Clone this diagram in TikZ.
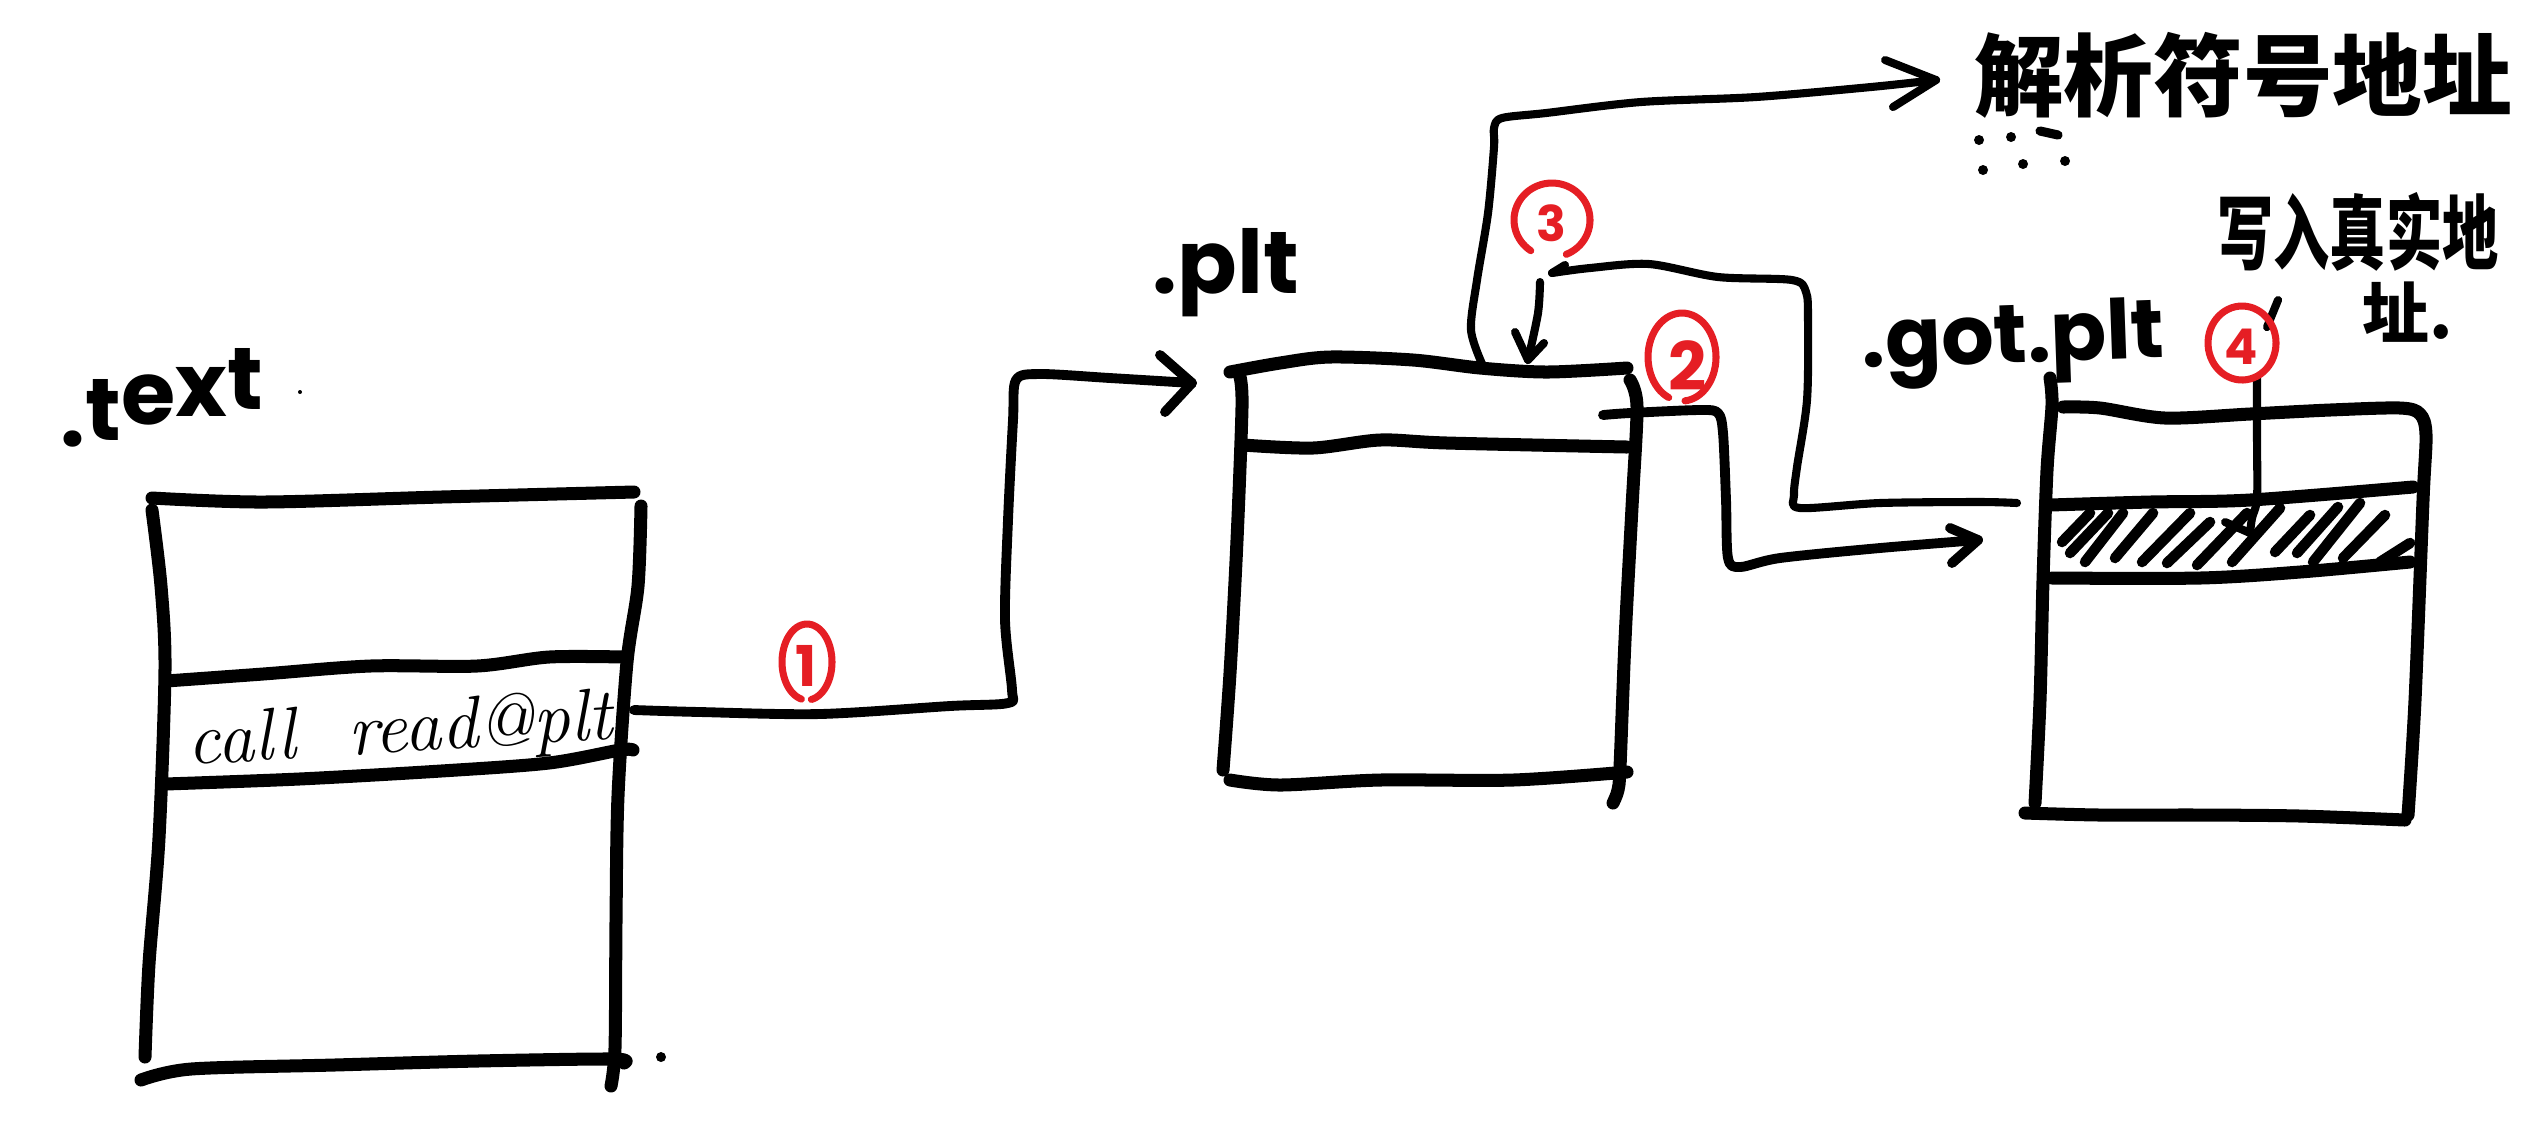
\documentclass[tikz,border=0pt]{standalone}
\usepackage{fontspec}
\usepackage{graphicx}
\newfontfamily\cjk{Noto Sans CJK SC}
\newfontfamily\hand{Poppins}
\definecolor{redpen}{RGB}{229,30,36}
\tikzset{
  boxline/.style={line width=3.7pt},
  conn/.style={line width=2.8pt},
  thinconn/.style={line width=2.3pt},
  hatchline/.style={line width=3pt},
  redline/.style={draw=redpen, line width=2pt},
  lbl/.style={inner sep=0pt, font=\hand\bfseries\fontsize{25}{30}\selectfont},
  num/.style={inner sep=0pt, text=redpen, font=\hand\bfseries},
  cjklbl/.style={inner sep=0pt, font=\cjk\bfseries},
}
\newcommand\rloop[6]{\draw[redline] plot[smooth, samples=60, domain=#5:#6, variable=\t] ({#1+#3*cos(\t)}, {#2+#4*sin(\t)});}
\begin{document}
\begin{tikzpicture}[x=0.01cm, y=-0.01cm, line cap=round, line join=round]
\fill[white] (0,0) rectangle (2522,1132);
\useasboundingbox (0,0) rectangle (2522,1132);

% ---------- labels ----------
\node[lbl, anchor=base west] (ltext) at (60,446) {.\raisebox{1.5pt}{t}\raisebox{6pt}{e}\raisebox{8.5pt}{x}\raisebox{10.5pt}{t}};
\node[lbl, anchor=base west] (lplt) at (1152,293) {.plt};
\node[lbl, anchor=base west, rotate=2, font=\hand\bfseries\fontsize{23.5}{28}\selectfont] (lgot) at (1862,368) {.got.plt};
\node[cjklbl, font=\cjk\bfseries\fontsize{25.5}{30}\selectfont] (resolvetxt) at (2243,75) {解析符号地址};
\node[cjklbl, font=\cjk\bfseries\fontsize{16}{18}\selectfont] (write1) at (2358,232) {\scalebox{1}[1.45]{写入真实地}};
\node[cjklbl, font=\cjk\bfseries\fontsize{19}{22}\selectfont] (write2) at (2408,312) {址.};

% dots under resolve text
\foreach \p in {(1979,140),(2011,137),(1983,170),(2023,164),(2065,161)}
  \fill \p circle[radius=5];
\draw[line width=2.6pt] (2040,131) -- (2058,135);
% stray dots
\fill (300,392) circle[radius=2];
\fill (661,1057) circle[radius=5];

% ---------- .text box ----------
\draw[boxline] plot[smooth] coordinates {(152,498) (263,502) (441,497) (634,492)};
\draw[boxline] plot[smooth] coordinates {(641,506) (638,586) (627,662) (618,796) (616,922) (615,1048) (611,1086)};
\draw[boxline] plot[smooth] coordinates {(152,510) (161,586) (165,670) (159,838) (149,964) (145,1057)};
\draw[boxline] plot[smooth] coordinates {(141,1080) (191,1069) (334,1065) (477,1061) (613,1059) (624,1063)};
\draw[boxline] plot[smooth] coordinates {(166,681) (263,674) (370,666) (477,666) (549,657) (624,657)};
\draw[boxline] plot[smooth] coordinates {(165,784) (299,779) (441,771) (549,763) (620,750) (633,750)};
\node[inner sep=0pt, rotate=3.5, font=\itshape\fontsize{21}{24}\selectfont] (call) at (400,733) {call\ \ read@plt};

% ---------- .plt box ----------
\draw[boxline] plot[smooth] coordinates {(1230,372) (1280,363) (1330,357) (1413,360) (1480,368) (1547,372) (1627,368)};
\draw[boxline] plot[smooth] coordinates {(1240,377) (1242,407) (1237,540) (1230,673) (1223,770)};
\draw[boxline] plot[smooth] coordinates {(1230,780) (1280,785) (1380,780) (1513,780) (1627,772)};
\draw[boxline] plot[smooth] coordinates {(1630,380) (1637,407) (1632,507) (1625,640) (1620,767) (1618,790) (1613,803)};
\draw[boxline] plot[smooth] coordinates {(1243,445) (1313,448) (1380,440) (1447,443) (1627,447)};

% ---------- .got.plt box ----------
\draw[boxline] plot[smooth] coordinates {(2050,378) (2052,405) (2047,470) (2043,580) (2040,700) (2035,803)};
\draw[boxline] plot[smooth] coordinates {(2063,407) (2100,408) (2165,418) (2250,414) (2330,410) (2400,408) (2420,414) (2426,435) (2423,500) (2415,700) (2408,815)};
\draw[boxline] plot[smooth] coordinates {(2025,813) (2100,815) (2200,815) (2300,816) (2405,820)};
\draw[boxline] plot[smooth] coordinates {(2050,505) (2150,502) (2250,500) (2413,487)};
\draw[boxline] plot[smooth] coordinates {(2052,578) (2200,578) (2300,572) (2410,562)};
\foreach \a/\b/\c/\d in {2062/542/2090/513, 2070/553/2108/513, 2085/562/2123/513, 2115/558/2153/513,
  2142/562/2190/513, 2167/563/2210/522, 2197/565/2247/513, 2232/562/2280/508, 2275/552/2310/515,
  2297/553/2338/507, 2313/562/2360/503, 2343/558/2385/515, 2380/562/2410/543}
  \draw[hatchline] (\a,\b) -- (\c,\d);

% ---------- named endpoints ----------
\coordinate (textout) at (634,710);
\coordinate (pltin) at (1192,383);
\coordinate (pltout) at (1603,415);
\coordinate (gotin) at (1978,540);
\coordinate (gotback) at (2017,503);
\coordinate (pltup) at (1483,366);
\coordinate (resolve) at (1936,80);
\coordinate (backend) at (1552,273);
\coordinate (arr3s) at (1540,282);
\coordinate (plttop3) at (1528,360);
\coordinate (fourtop) at (2257,378);
\coordinate (slot) at (2250,533);

% ---------- connector 1 ----------
\draw[conn] plot[smooth, tension=0.5] coordinates {(textout) (700,712) (820,714) (950,706) (1008,703) (1012,690) (1005,620) (1008,520) (1013,420) (1016,380) (1040,374) (1110,378) (pltin)};
\draw[conn] (1160,355) -- (pltin) -- (1165,412);

% ---------- connector 2 ----------
\draw[conn] plot[smooth, tension=0.5] coordinates {(pltout) (1630,413) (1700,410) (1718,413) (1723,433) (1726,500) (1728,558) (1740,567) (1780,558) (1880,548) (gotin)};
\draw[conn] (1950,528) -- (gotin) -- (1952,563);

% ---------- up to resolve ----------
\draw[thinconn] plot[smooth, tension=0.5] coordinates {(pltup) (1471,330) (1477,280) (1488,213) (1494,147) (1494,128) (1502,118) (1546,113) (1641,102) (1756,97) (1871,87) (resolve)};
\draw[thinconn] (1885,60) -- (resolve) -- (1893,107);

% ---------- back from got.plt ----------
\draw[thinconn] plot[smooth, tension=0.5] coordinates {(gotback) (1980,502) (1880,503) (1800,508) (1794,495) (1797,467) (1807,400) (1808,320) (1806,292) (1792,280) (1718,277) (1649,264) (1590,268) (backend)};
\draw[thinconn] (backend) -- (1565,265);
\draw[thinconn] plot[smooth] coordinates {(arr3s) (1538,313) (plttop3)};
\draw[thinconn] (1515,332) -- (plttop3) -- (1544,343);

% ---------- write real address ----------
\draw[thinconn] plot[smooth, tension=0.5] coordinates {(fourtop) (2257,440) (2257,498) (2252,518) (slot)};
\draw[thinconn] (2225,522) -- (slot);
\draw[thinconn] (2278,300) -- (2267,327);

% ---------- red step numbers ----------
\rloop{807}{662}{25}{38}{103}{440}
\node[num, font=\hand\bfseries\fontsize{16}{18}\selectfont] (n1) at (806,666) {1};
\rloop{1682}{357}{34}{44}{113}{445}
\node[num, font=\hand\bfseries\fontsize{19}{22}\selectfont] (n2) at (1688,366) {2};
\rloop{1552}{220}{38}{37}{124}{428}
\node[num, font=\hand\bfseries\fontsize{14}{16}\selectfont] (n3) at (1551,223) {3};
\rloop{2242}{343}{34}{37}{0}{372}
\node[num, font=\hand\bfseries\fontsize{14}{16}\selectfont] (n4) at (2241,347) {4};
\end{tikzpicture}
\end{document}
